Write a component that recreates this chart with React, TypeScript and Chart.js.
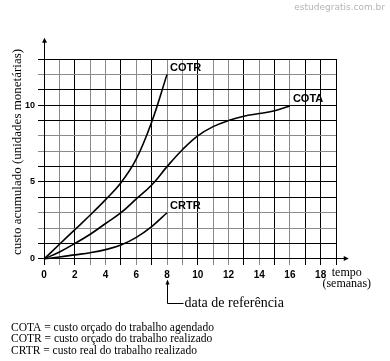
import React, { useEffect, useRef } from 'react';
import { Chart, registerables } from 'chart.js';

Chart.register(...registerables);

// ---- data ----
const cotaWeeks = [0, 1, 2, 3, 4, 5, 6, 7, 8, 9, 10, 11, 12, 13, 14, 15, 16];
const cotaValues = [0, 0.45, 1.0, 1.6, 2.3, 3.0, 3.9, 4.8, 6.0, 7.1, 8.0, 8.6, 9.0, 9.28, 9.45, 9.63, 9.95];
const cotrWeeks = [0, 1, 2, 3, 4, 5, 6, 7, 8];
const cotrValues = [0, 0.95, 1.9, 2.85, 3.85, 4.95, 6.5, 8.9, 12.0];
const crtrWeeks = [0, 1, 2, 3, 4, 5, 6, 7, 8];
const crtrValues = [0, 0.12, 0.26, 0.4, 0.6, 0.9, 1.4, 2.1, 3.0];

const seriesNames = ['COTA', 'COTR', 'CRTR'];
const seriesDescriptions = [
  'custo orçado do trabalho agendado',
  'custo orçado do trabalho realizado',
  'custo real do trabalho realizado',
];

const xGridValues = [0, 1, 2, 3, 4, 5, 6, 7, 8, 9, 10, 11, 12, 13, 14, 15, 16, 17, 18, 19];
const yGridValues = [0, 1, 2, 3, 4, 5, 6, 7, 8, 9, 10, 11, 12, 13];
const xTickLabels = [0, 2, 4, 6, 8, 10, 12, 14, 16, 18];
const yTickLabels = [0, 5, 10];
const xDarkLines = [0, 2, 5, 7, 10, 13, 15, 17, 18, 19];
const yDarkLines = [0, 1, 4, 5, 6, 9, 10, 11, 13];
const referenceWeek = 8;

const yTitle = 'custo acumulado (unidades monetárias)';
const xTitle1 = 'tempo';
const xTitle2 = '(semanas)';
const referenceLabel = 'data de referência';
const watermark = 'estudegratis.com.br';

const toPoints = (xs: number[], ys: number[]) => xs.map((v, i) => ({ x: v, y: ys[i] }));

const align = (p: number) => Math.round(p - 0.5) + 0.5;

const annotationsPlugin = {
  id: 'annotations',
  afterDatasetsDraw(chart: any) {
    const { ctx } = chart;
    const xs = chart.scales.x;
    const ys = chart.scales.y;
    ctx.save();
    ctx.strokeStyle = '#000';
    ctx.fillStyle = '#000';
    ctx.lineWidth = 1;

    // axes with arrows
    const x0 = align(xs.getPixelForValue(0));
    const y0 = align(ys.getPixelForValue(0));
    const xEnd = xs.getPixelForValue(19.7);
    const yEnd = ys.getPixelForValue(14.25);
    ctx.beginPath();
    ctx.moveTo(x0, y0);
    ctx.lineTo(xEnd, y0);
    ctx.moveTo(x0, ys.getPixelForValue(-0.4));
    ctx.lineTo(x0, yEnd);
    ctx.stroke();
    ctx.beginPath();
    ctx.moveTo(xEnd + 2, y0);
    ctx.lineTo(xEnd - 3, y0 - 2.5);
    ctx.lineTo(xEnd - 3, y0 + 2.5);
    ctx.closePath();
    ctx.fill();
    ctx.beginPath();
    ctx.moveTo(x0, yEnd - 2);
    ctx.lineTo(x0 - 2.5, yEnd + 3);
    ctx.lineTo(x0 + 2.5, yEnd + 3);
    ctx.closePath();
    ctx.fill();

    // series labels at the end of each curve
    ctx.font = 'bold 11px "Liberation Sans", Arial, sans-serif';
    ctx.textAlign = 'left';
    ctx.textBaseline = 'middle';
    chart.data.datasets.forEach((ds: any) => {
      const last = ds.data[ds.data.length - 1];
      const px = xs.getPixelForValue(last.x);
      const py = ys.getPixelForValue(last.y);
      ctx.fillText(ds.label, px + 3, py - 6.5);
    });

    // y axis title
    ctx.save();
    ctx.font = '13px "Liberation Serif", "Times New Roman", serif';
    ctx.translate(18, 152);
    ctx.rotate(-Math.PI / 2);
    ctx.textAlign = 'center';
    ctx.textBaseline = 'middle';
    ctx.fillText(yTitle, 0, 0);
    ctx.restore();

    // x axis title
    ctx.font = '12px "Liberation Serif", "Times New Roman", serif';
    ctx.textAlign = 'center';
    ctx.textBaseline = 'middle';
    const titleX = xs.getPixelForValue(19.7);
    ctx.fillText(xTitle1, titleX, y0 + 14);
    ctx.fillText(xTitle2, titleX, y0 + 25);

    // reference date arrow
    const rx = align(xs.getPixelForValue(referenceWeek));
    const arrowTop = y0 + 22;
    const arrowBottom = y0 + 45;
    ctx.beginPath();
    ctx.moveTo(rx, arrowTop + 2);
    ctx.lineTo(rx, arrowBottom);
    ctx.lineTo(rx + 16, arrowBottom);
    ctx.stroke();
    ctx.beginPath();
    ctx.moveTo(rx, arrowTop - 1);
    ctx.lineTo(rx - 2, arrowTop + 4);
    ctx.lineTo(rx + 2, arrowTop + 4);
    ctx.closePath();
    ctx.fill();
    ctx.font = '14px "Liberation Serif", "Times New Roman", serif';
    ctx.textAlign = 'left';
    ctx.fillText(referenceLabel, rx + 17, arrowBottom);

    // legend text
    ctx.font = '11.5px "Liberation Serif", "Times New Roman", serif';
    ctx.textAlign = 'left';
    ctx.textBaseline = 'middle';
    seriesNames.forEach((name, i) => {
      ctx.fillText(name + ' = ' + seriesDescriptions[i], 11, 327.5 + i * 11.7);
    });

    // watermark
    ctx.font = '9px "DejaVu Sans", sans-serif';
    ctx.fillStyle = '#b4b4b4';
    ctx.textAlign = 'right';
    ctx.fillText(watermark, 385, 8);

    ctx.restore();
  },
};

export default function App() {
  const canvasRef = useRef<HTMLCanvasElement | null>(null);

  useEffect(() => {
    if (!canvasRef.current) return;
    const lineStyle = {
      borderColor: '#000',
      borderWidth: 1.6,
      pointRadius: 0,
      fill: false,
      tension: 0.4,
    };
    const chart = new Chart(canvasRef.current, {
      type: 'line',
      data: {
        datasets: [
          { label: seriesNames[0], data: toPoints(cotaWeeks, cotaValues), ...lineStyle },
          { label: seriesNames[1], data: toPoints(cotrWeeks, cotrValues), ...lineStyle },
          { label: seriesNames[2], data: toPoints(crtrWeeks, crtrValues), ...lineStyle },
        ],
      },
      options: {
        animation: false,
        responsive: false,
        events: [],
        layout: { padding: { left: 0, top: 59, right: 54, bottom: 76 } },
        plugins: { legend: { display: false }, tooltip: { enabled: false }, title: { display: false } },
        scales: {
          x: {
            type: 'linear',
            min: -0.4,
            max: 19,
            afterBuildTicks: (scale: any) => {
              scale.ticks = xGridValues.map((v) => ({ value: v }));
            },
            afterFit: (scale: any) => {
              scale.height = 20;
            },
            border: { display: false },
            grid: {
              drawTicks: false,
              lineWidth: 1,
              color: (c: any) => (xDarkLines.includes(c.tick?.value) ? '#000' : '#8a8a8a'),
            },
            ticks: {
              padding: 4,
              maxRotation: 0,
              autoSkip: false,
              color: '#000',
              font: { family: '"Liberation Sans", Arial, sans-serif', size: 10, weight: 'bold' },
              callback: (v: any) => (xTickLabels.includes(Number(v)) ? String(v) : ''),
            },
          },
          y: {
            type: 'linear',
            min: -0.4,
            max: 13,
            afterBuildTicks: (scale: any) => {
              scale.ticks = yGridValues.map((v) => ({ value: v }));
            },
            afterFit: (scale: any) => {
              scale.width = 38;
            },
            border: { display: false },
            grid: {
              drawTicks: false,
              lineWidth: 1,
              color: (c: any) => (yDarkLines.includes(c.tick?.value) ? '#000' : '#8a8a8a'),
            },
            ticks: {
              padding: 3,
              autoSkip: false,
              color: '#000',
              font: { family: '"Liberation Sans", Arial, sans-serif', size: 9, weight: 'bold' },
              callback: (v: any) => (yTickLabels.includes(Number(v)) ? String(v) : ''),
            },
          },
        },
      },
      plugins: [annotationsPlugin],
    });
    return () => chart.destroy();
  }, []);

  return (
    <div style={{ position: 'absolute', left: 0, top: 0, width: 390, height: 361, background: '#fff' }}>
      <canvas ref={canvasRef} width={390} height={361} style={{ display: 'block', width: 390, height: 361 }} />
    </div>
  );
}
